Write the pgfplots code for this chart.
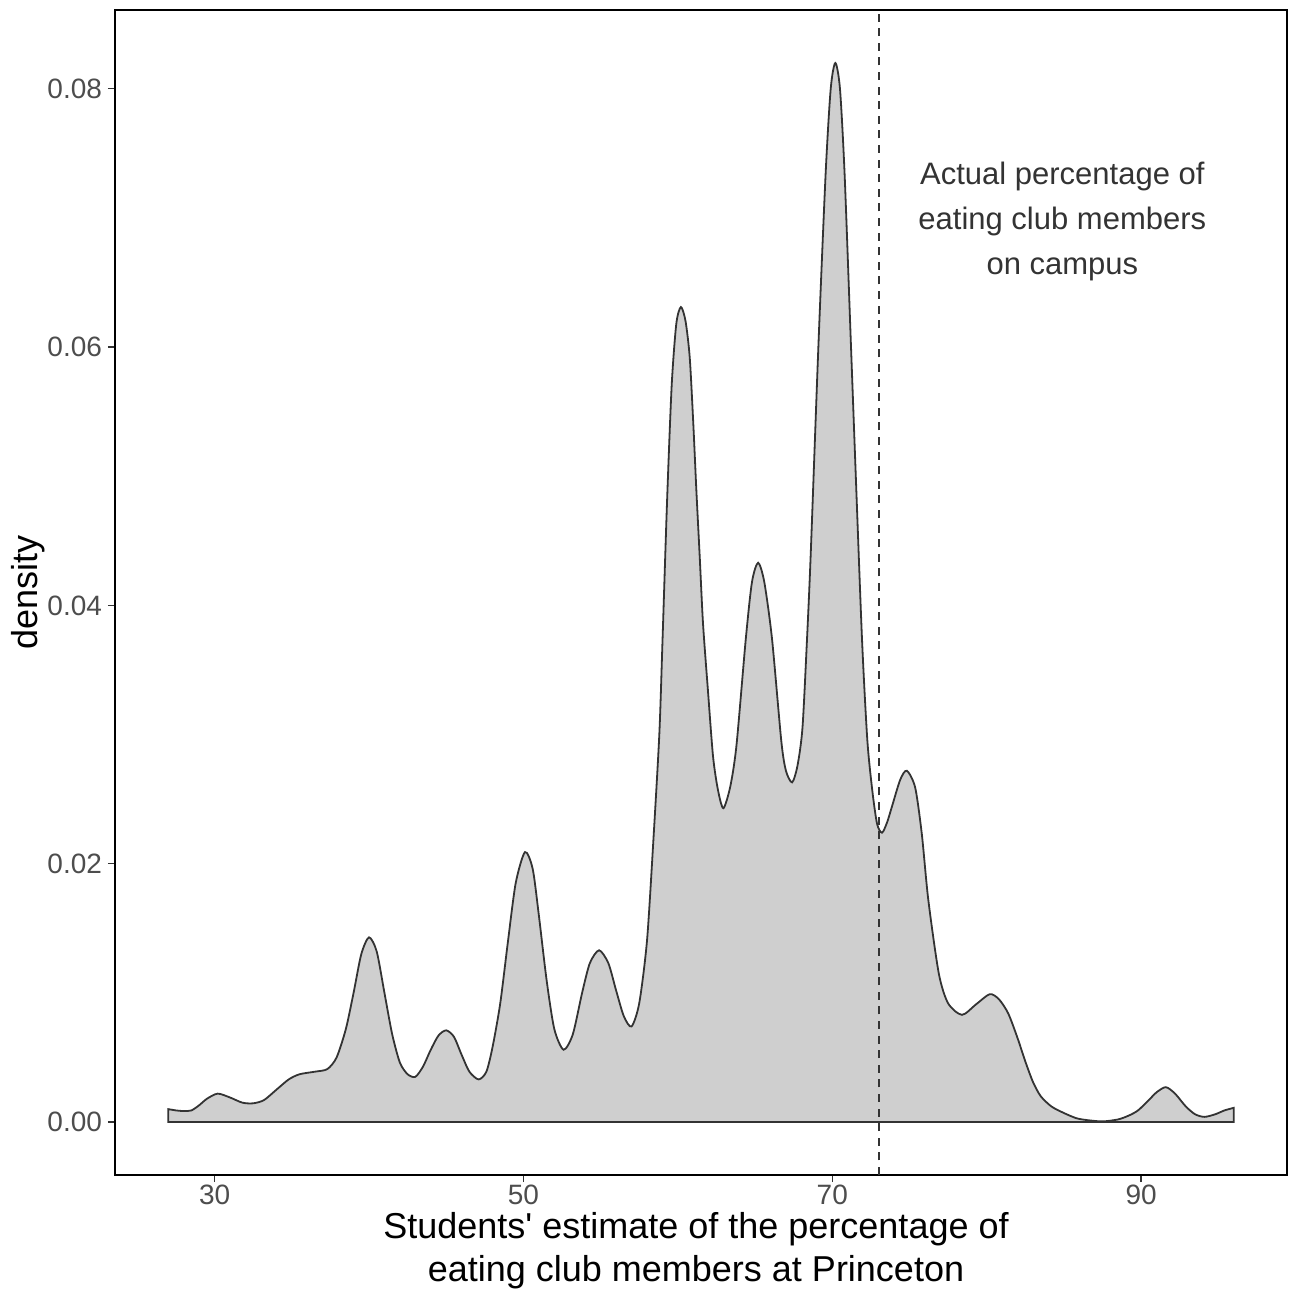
\documentclass[border=0pt]{standalone}
\usepackage{pgfplots}
\pgfplotsset{compat=1.18}
\usepackage{fontspec}
\setmainfont{Liberation Sans}
\definecolor{fillgray}{HTML}{CFCFCF}
\definecolor{linegray}{HTML}{333333}
\definecolor{tickgray}{HTML}{4D4D4D}
\begin{document}
\begin{tikzpicture}
\useasboundingbox (-57.5bp,-62bp) rectangle (592bp,587.5bp);
\begin{axis}[
  at={(0,0)}, anchor=south west,
  scale only axis,
  width=586bp, height=582.5bp,
  xmin=23.55, xmax=99.45,
  ymin=-0.0041, ymax=0.0861,
  xtick={30,50,70,90},
  ytick={0,0.02,0.04,0.06,0.08},
  yticklabel style={/pgf/number format/fixed,/pgf/number format/zerofill,/pgf/number format/precision=2},
  scaled y ticks=false,
  /pgf/number format/assume math mode=true,
  tick align=outside,
  major tick length=3.5bp,
  tick style={color=linegray, line width=0.6bp},
  axis line style={black, line width=1bp},
  ticklabel style={font=\fontsize{14bp}{16bp}\selectfont, color=tickgray},
  xticklabel style={yshift=2bp},
  yticklabel style={xshift=0.5bp},
  xtick pos=bottom, ytick pos=left,
  clip=true,
]
\addplot[smooth, tension=0.45, fill=fillgray, draw=linegray, line width=0.9bp] coordinates {
(27.0,0.0010) (27.5,0.0009) (28.0,0.00085) (28.5,0.0009) (29.0,0.0013) (29.5,0.0018)
(30.2,0.0022) (31.0,0.0019) (31.8,0.0015) (32.5,0.00145) (33.2,0.0017) (34.0,0.0025)
(34.8,0.0033) (35.5,0.0037) (36.5,0.0039) (37.3,0.0041) (37.9,0.0050) (38.5,0.0072)
(39.0,0.0100) (39.5,0.0130) (40.0,0.0143) (40.5,0.0132) (41.0,0.0100) (41.5,0.0068)
(42.0,0.0046) (42.5,0.0037) (43.0,0.0035) (43.5,0.0043) (44.0,0.0056) (44.5,0.0067)
(45.0,0.0071) (45.5,0.0066) (46.0,0.0052) (46.5,0.0039) (47.1,0.0033) (47.6,0.0039)
(48.0,0.0058) (48.5,0.0092) (49.0,0.0140) (49.5,0.0185) (50.1,0.0209) (50.6,0.0196)
(51.0,0.0160) (51.5,0.0110) (52.0,0.0072) (52.6,0.0056) (53.2,0.0068) (53.8,0.0100)
(54.3,0.0123) (54.9,0.0133) (55.5,0.0123) (56.0,0.0102) (56.5,0.0082) (57.0,0.0074)
(57.5,0.0092) (58.0,0.0140) (58.4,0.0215) (58.8,0.0300) (59.0,0.0370) (59.3,0.0480)
(59.6,0.0570) (59.9,0.0618) (60.2,0.0631) (60.5,0.0620) (60.77,0.0592) (61.0,0.0541)
(61.2,0.0489) (61.42,0.0437) (61.63,0.0386) (61.95,0.0334) (62.28,0.0283) (62.6,0.0257)
(62.95,0.0243) (63.4,0.0260)
(63.8,0.0292) (64.4,0.0374) (64.8,0.0418) (65.2,0.0433) (65.6,0.0418) (66.1,0.0374)
(66.7,0.0295) (67.0,0.0272) (67.4,0.0263) (67.75,0.0276) (68.07,0.0305) (68.35,0.0370)
(68.6,0.0438) (69.1,0.0600) (69.57,0.0734) (69.9,0.0800) (70.2,0.0820) (70.5,0.0800)
(70.8,0.0734) (71.2,0.0605) (71.55,0.0492) (71.93,0.0373) (72.27,0.0296) (72.59,0.0257)
(72.9,0.0231) (73.22,0.0224) (73.55,0.0232) (73.86,0.0244) (74.4,0.0265) (74.83,0.0272)
(75.37,0.0259) (75.8,0.0223) (76.22,0.0172) (76.9,0.0115) (77.5,0.0092) (78.4,0.0083)
(79.3,0.0091) (80.2,0.0099) (80.8,0.0095) (81.4,0.0084) (82.0,0.0065) (82.5,0.0047)
(83.0,0.0031) (83.5,0.0020) (84.2,0.0012) (85.0,0.0007) (85.8,0.0003) (86.5,0.00015)
(87.5,0.00005) (88.5,0.0002) (89.2,0.0005) (89.8,0.0009) (90.5,0.0017) (91.0,0.0023)
(91.6,0.0027) (92.2,0.0022) (92.9,0.0012) (93.5,0.0006) (94.1,0.0004) (94.8,0.0006)
(95.4,0.0009) (96.0,0.0011)
} \closedcycle;
\addplot[draw=linegray, line width=1bp, dash pattern=on 4bp off 3.3bp] coordinates {(73,-0.0041) (73,0.0861)};
\node[align=center, font=\fontsize{15.5bp}{22.5bp}\selectfont, text=linegray] at (axis cs:84.9,0.0697) {Actual percentage of\\eating club members\\on campus};
\end{axis}
\node[align=center, font=\fontsize{18bp}{21.5bp}\selectfont] at (290.5bp,-37.75bp) {Students\textquotesingle{} estimate of the percentage of\\eating club members at Princeton};
\node[rotate=90, font=\fontsize{18bp}{20bp}\selectfont] at (-43.5bp,291.25bp) {density};
\end{tikzpicture}
\end{document}
